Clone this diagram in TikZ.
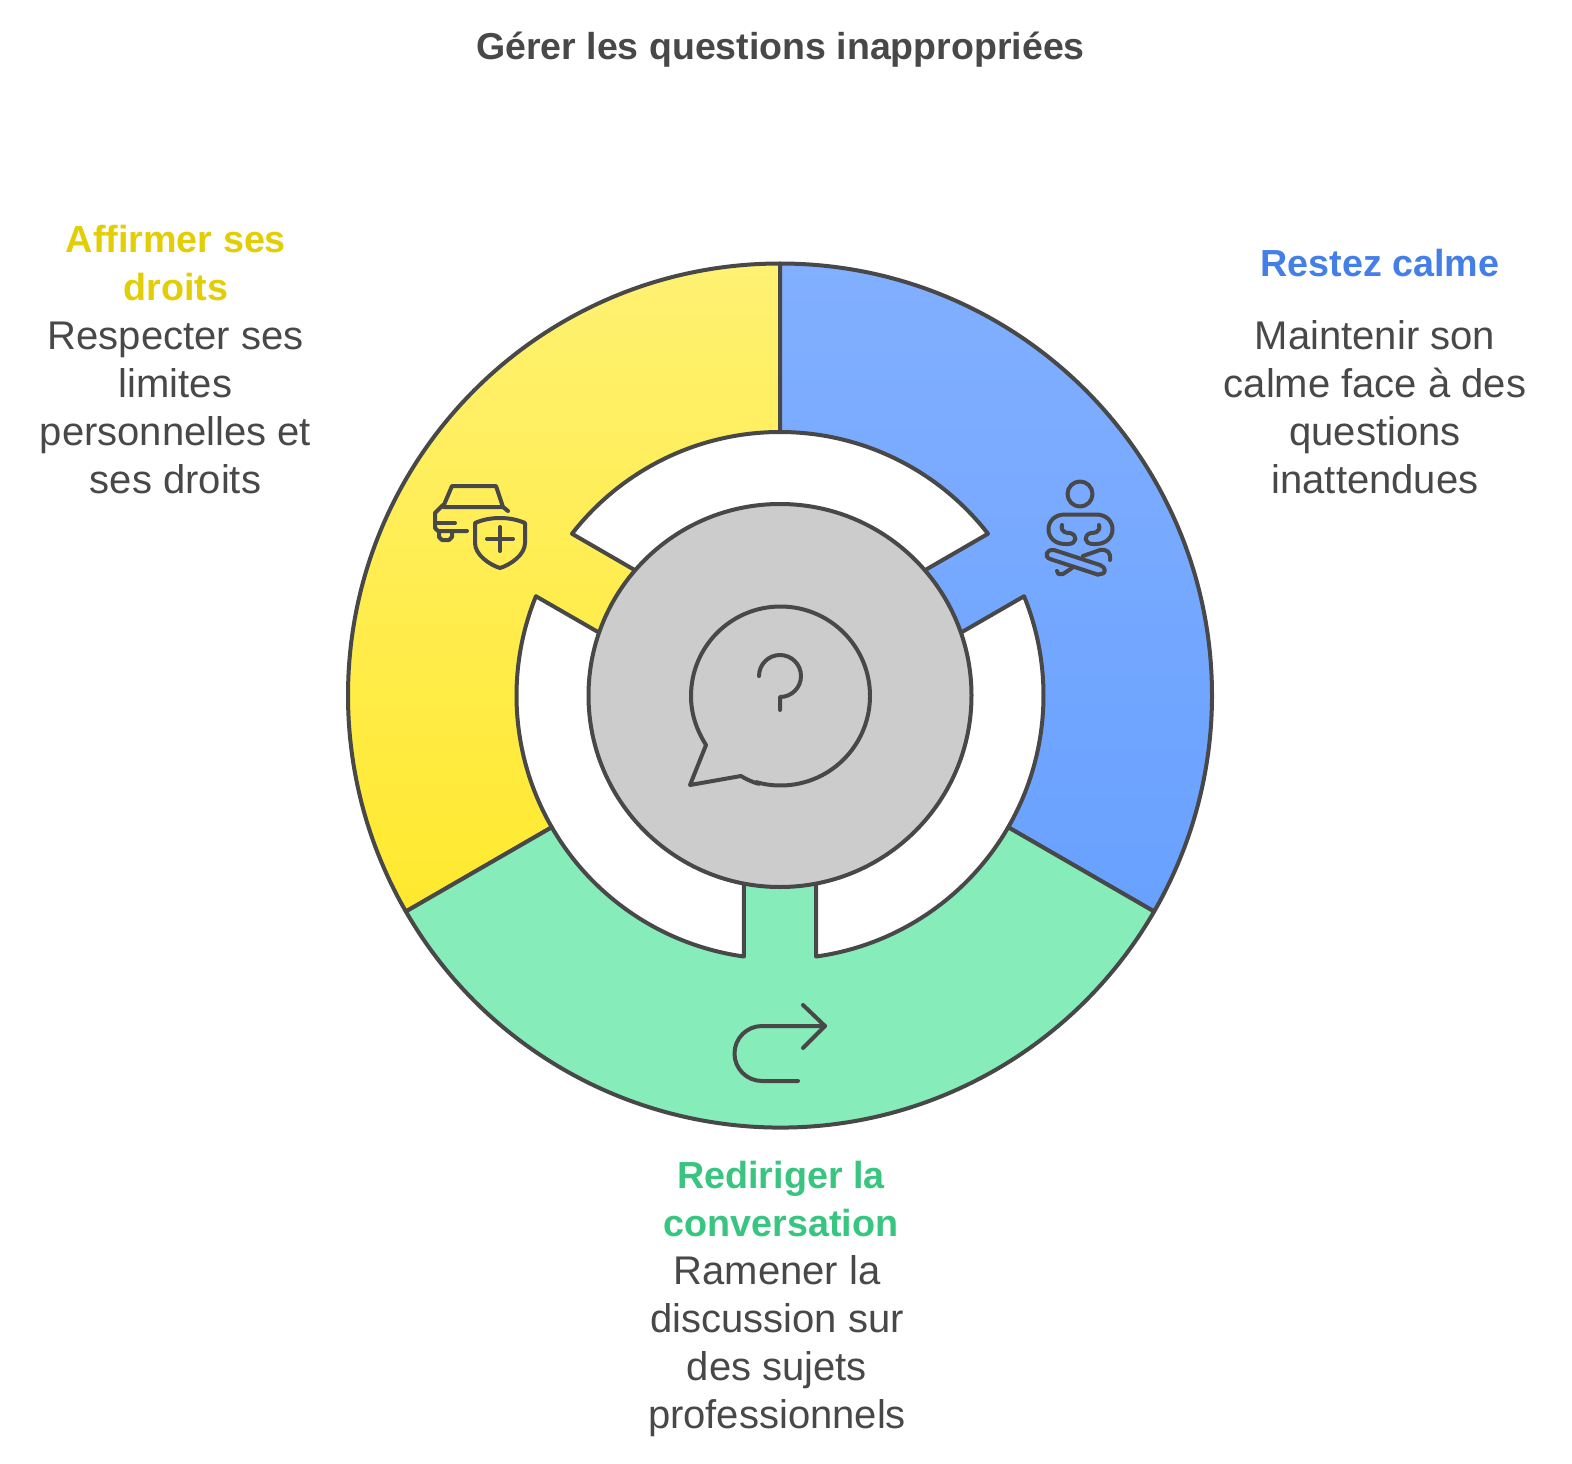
\documentclass[tikz,border=0pt]{standalone}
\usepackage{fontspec}
\setmainfont{Liberation Sans}
\begin{document}
\begin{tikzpicture}[x=1pt,y=1pt,
  ring/.style={draw=inkc,line width=4pt,line join=round},
  ico/.style={draw=inkc,line width=4pt,line cap=round,line join=round},
  body/.style={text=inkc,font=\fontsize{40}{48}\selectfont,align=center,inner sep=0pt,anchor=north},
  head/.style={font=\fontsize{37.7}{48}\selectfont\bfseries,align=center,inner sep=0pt,anchor=north}]
\definecolor{inkc}{HTML}{484848}
\definecolor{yt}{HTML}{FFF172}
\definecolor{yb}{HTML}{FFE92E}
\definecolor{bt}{HTML}{82AFFF}
\definecolor{bb}{HTML}{68A1FF}
\definecolor{gr}{HTML}{86ECB9}
\definecolor{gy}{HTML}{CCCCCC}
\definecolor{yh}{HTML}{E3CE05}
\definecolor{bh}{HTML}{437FE6}
\definecolor{gh}{HTML}{37C57F}
\useasboundingbox (0,0) rectangle (1572,-1464);
\fill[white] (0,0) rectangle (1572,-1464);
\begin{scope}[shift={(780pt,-695.5pt)}]
\path[ring,top color=yt,bottom color=yb]
  (90:432pt) arc[start angle=90,end angle=210,radius=432pt]
  -- (210:263.5pt) arc[start angle=210,end angle=157.87,radius=263.5pt]
  -- (161.31:183.6pt) -- (138.69:183.6pt) -- (142.13:263.5pt)
  arc[start angle=142.13,end angle=90,radius=263.5pt] -- cycle;
\path[ring,top color=bt,bottom color=bb]
  (90:432pt) arc[start angle=90,end angle=-30,radius=432pt]
  -- (-30:263.5pt) arc[start angle=-30,end angle=22.13,radius=263.5pt]
  -- (18.69:183.6pt) -- (41.31:183.6pt) -- (37.87:263.5pt)
  arc[start angle=37.87,end angle=90,radius=263.5pt] -- cycle;
\path[ring,fill=gr]
  (210:432pt) arc[start angle=210,end angle=330,radius=432pt]
  -- (330:263.5pt) arc[start angle=330,end angle=277.87,radius=263.5pt]
  -- (281.31:183.6pt) -- (258.69:183.6pt) -- (262.13:263.5pt)
  arc[start angle=262.13,end angle=210,radius=263.5pt] -- cycle;
\path[ring,fill=gy] (0,0) circle[radius=191.5pt];
\end{scope}
% speech bubble
\draw[ico] (706,-745) .. controls (696,-729) and (691,-713) .. (691,-696)
  arc[start angle=180,end angle=-106,radius=89.5pt]
  .. controls (766,-786) and (752,-783) .. (741,-776) -- (690,-785) -- cycle;
\draw[ico] (759,-676) arc[start angle=180,end angle=-90,radius=21pt] -- (780,-710);
% return arrow
\draw[ico] (798,-1081) -- (762,-1081) arc[start angle=270,end angle=90,radius=27.5pt] -- (825,-1026);
\draw[ico] (803,-1005) -- (825,-1026) -- (803,-1048);
% car + shield
\draw[ico] (508,-511) -- (503,-507) -- (443,-507) -- (452,-486) -- (496,-486) -- (503,-507);
\draw[ico] (443,-505) -- (435,-513) -- (435,-528) -- (438,-531) -- (467,-531);
\draw[ico] (437,-523) -- (455,-523);
\draw[ico] (439,-532) -- (439,-537) -- (442,-540) -- (449,-540) -- (452,-537) -- (452,-532);
\draw[ico] (500,-518) .. controls (490,-518) and (482,-520) .. (475,-523) -- (475,-543)
  .. controls (475,-555) and (490,-565) .. (500,-568)
  .. controls (510,-565) and (525,-555) .. (525,-543) -- (525,-523)
  .. controls (518,-520) and (510,-518) .. (500,-518) -- cycle;
\draw[ico] (500,-527) -- (500,-551) (487,-539) -- (513,-539);
% meditation
\draw[ico] (1080,-494) circle[radius=12.5pt];
\draw[ico] (1062,-525) .. controls (1060,-533) and (1068,-533) .. (1070,-533)
  .. controls (1078,-535) and (1077,-544) .. (1068,-544) -- (1065,-544)
  .. controls (1043,-544) and (1043,-514.5) .. (1065,-514.5) -- (1096,-514.5)
  .. controls (1118,-514.5) and (1118,-544) .. (1096,-544) -- (1093,-544)
  .. controls (1084,-544) and (1083,-535) .. (1091,-533)
  .. controls (1093,-533) and (1101,-533) .. (1099,-525);
\draw[ico] (1054,-550) -- (1100,-565) .. controls (1106,-567) and (1107,-574) .. (1100,-574)
  .. controls (1098,-575) and (1098,-575) .. (1096,-574) -- (1050,-559)
  .. controls (1044,-557) and (1046,-549) .. (1054,-550) -- cycle;
\draw[ico] (1110,-560) .. controls (1111,-552) and (1107,-549) .. (1100,-550) -- (1083,-556);
\draw[ico] (1072,-568) -- (1063,-574) .. controls (1058,-575) and (1057,-573) .. (1057,-571);
% texts
\node[text=inkc,font=\fontsize{37.5}{48}\selectfont\bfseries,inner sep=0pt] (title) at (780.5,-50) {Gérer les questions inappropriées};
\node[head,text=yh] (h1) at (176,-225) {Affirmer ses\\droits};
\node[body] (t1) at (175.5,-322) {Respecter ses\\limites\\personnelles et\\ses droits};
\node[head,text=bh] (h2) at (1380,-249) {Restez calme};
\node[body] (t2) at (1375,-320) {Maintenir son\\calme face à des\\questions\\inattendues};
\node[head,text=gh] (h3) at (781,-1161) {Rediriger la\\conversation};
\node[body] (t3) at (777,-1255) {Ramener la\\discussion sur\\des sujets\\professionnels};
\end{tikzpicture}
\end{document}
